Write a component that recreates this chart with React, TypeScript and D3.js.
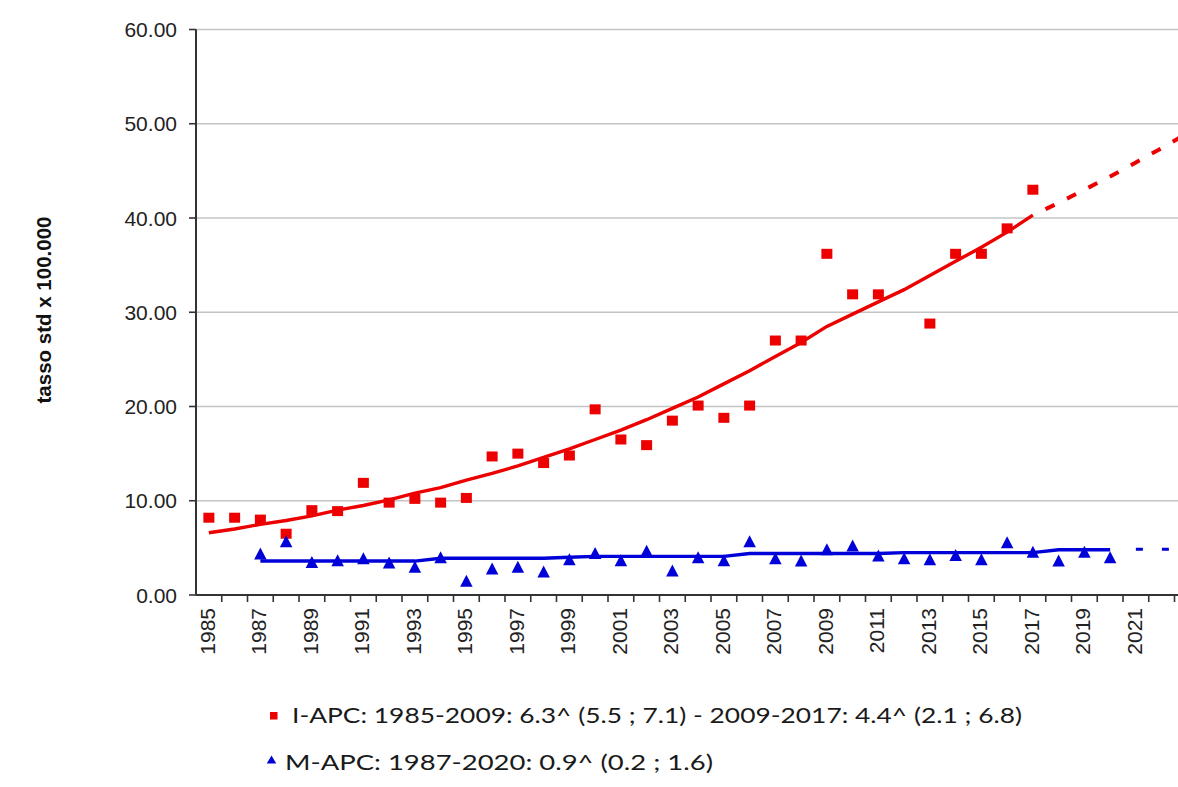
import * as d3 from 'd3';

// anni sull'asse x (l'asse prosegue oltre il bordo destro)
const years = d3.range(1985, 2025).map(String);
const yTicks = [0, 10, 20, 30, 40, 50, 60];

// incidenza osservata (quadrati rossi), 2012 assente
const incYears = [1985, 1986, 1987, 1988, 1989, 1990, 1991, 1992, 1993, 1994, 1995, 1996, 1997, 1998, 1999, 2000, 2001, 2002, 2003, 2004, 2005, 2006, 2007, 2008, 2009, 2010, 2011, 2013, 2014, 2015, 2016, 2017];
const incValues = [8.2, 8.2, 8.0, 6.5, 9.0, 8.9, 11.9, 9.8, 10.2, 9.8, 10.3, 14.7, 15.0, 14.0, 14.8, 19.7, 16.5, 15.9, 18.5, 20.1, 18.8, 20.1, 27.0, 27.0, 36.2, 31.9, 31.9, 28.8, 36.2, 36.2, 38.9, 43.0];

// modello joinpoint incidenza
const incFitYears = d3.range(1985, 2018);
const incFitValues = [6.6, 7.0, 7.5, 7.9, 8.4, 9.0, 9.5, 10.1, 10.8, 11.4, 12.2, 12.9, 13.7, 14.6, 15.5, 16.5, 17.5, 18.6, 19.8, 21.0, 22.4, 23.8, 25.3, 26.8, 28.5, 29.8, 31.1, 32.4, 33.9, 35.4, 36.9, 38.5, 40.3];
const incProjYears = [2017, 2018, 2019, 2020, 2021, 2022, 2023, 2024];
const incProjValues = [40.3, 41.6, 43.0, 44.4, 45.9, 47.4, 49.0, 50.6];

// mortalità osservata (triangoli blu)
const morYears = d3.range(1987, 2021);
const morValues = [4.4, 5.7, 3.5, 3.7, 3.9, 3.45, 3.0, 4.0, 1.5, 2.8, 3.0, 2.5, 3.8, 4.45, 3.7, 4.7, 2.6, 4.0, 3.7, 5.7, 3.9, 3.65, 4.85, 5.25, 4.2, 3.9, 3.8, 4.25, 3.8, 5.6, 4.6, 3.65, 4.6, 4.0];
const morFitValues = [3.6, 3.6, 3.6, 3.6, 3.6, 3.6, 3.6, 3.9, 3.9, 3.9, 3.9, 3.9, 4.0, 4.1, 4.1, 4.1, 4.1, 4.1, 4.1, 4.4, 4.4, 4.4, 4.4, 4.4, 4.4, 4.5, 4.5, 4.5, 4.5, 4.5, 4.5, 4.8, 4.8, 4.8];
const morProjYears = [2021, 2022, 2023, 2024];
const morProjValues = [4.85, 4.85, 4.85, 4.85];

const legendInc = 'I-APC: 1985-2009: 6.3^ (5.5 ; 7.1) - 2009-2017: 4.4^ (2.1 ; 6.8)';
const legendMor = 'M-APC: 1987-2020: 0.9^ (0.2 ; 1.6)';

const W = 1178;
const H = 787;
const left = 196;
const bottom = 595;
const top = 29.5;
const step = 25.75;

const RED = '#ec0000';
const BLUE = '#0000d8';
const AXIS_FONT = "'Liberation Sans', Arial, sans-serif";

export default function App() {
  const x = d3
    .scaleBand<string>()
    .domain(years)
    .range([left, left + step * years.length])
    .paddingInner(0)
    .paddingOuter(0);
  const cx = (yr: number) => (x(String(yr)) ?? 0) + x.bandwidth() / 2;
  const y = d3.scaleLinear().domain([0, 60]).range([bottom, top]);

  const line = d3
    .line<[number, number]>()
    .x((d) => cx(d[0]))
    .y((d) => y(d[1]));

  const incFit = line(incFitYears.map((yr, i) => [yr, incFitValues[i]]));
  const incProj = line(incProjYears.map((yr, i) => [yr, incProjValues[i]]));
  const morFit = line(morYears.map((yr, i) => [yr, morFitValues[i]]));
  const morProj = line(morProjYears.map((yr, i) => [yr, morProjValues[i]]));

  const tri = (px: number, py: number, w: number, h: number) =>
    `M${px},${py - h / 2}L${px + w / 2},${py + h / 2}L${px - w / 2},${py + h / 2}Z`;

  return (
    <svg
      width={W}
      height={H}
      style={{ position: 'absolute', left: 0, top: 0, background: '#fff' }}
    >
      {/* griglia */}
      {yTicks.slice(1).map((t) => (
        <line key={t} x1={left} x2={W} y1={y(t)} y2={y(t)} stroke="#c4c4c4" strokeWidth={1.6} />
      ))}

      {/* asse y */}
      <line x1={left} x2={left} y1={top} y2={bottom} stroke="#333" strokeWidth={2} />
      {yTicks.map((t) => (
        <g key={t}>
          <line x1={189} x2={left} y1={y(t)} y2={y(t)} stroke="#333" strokeWidth={1.6} />
          <text
            x={177}
            y={y(t)}
            dy="0.36em"
            textAnchor="end"
            fontFamily={AXIS_FONT}
            fontSize={21}
            fill="#222"
          >
            {t.toFixed(2)}
          </text>
        </g>
      ))}
      <text
        transform={`translate(51,310) rotate(-90)`}
        textAnchor="middle"
        fontFamily={AXIS_FONT}
        fontSize={20.5}
        fontWeight="bold"
        fill="#111"
      >
        tasso std x 100.000
      </text>

      {/* asse x */}
      <line x1={left} x2={W} y1={bottom} y2={bottom} stroke="#333" strokeWidth={2} />
      {years.map((yr) => (
        <line
          key={yr}
          x1={x(yr)! + step}
          x2={x(yr)! + step}
          y1={bottom}
          y2={bottom + 7}
          stroke="#333"
          strokeWidth={1.6}
        />
      ))}
      {years
        .filter((yr) => (+yr - 1985) % 2 === 0)
        .map((yr) => (
          <text
            key={yr}
            transform={`translate(${cx(+yr) - 1.5},608) rotate(-90)`}
            dy="0.36em"
            textAnchor="end"
            fontFamily={AXIS_FONT}
            fontSize={21}
            fill="#222"
          >
            {yr}
          </text>
        ))}

      {/* modelli */}
      <path d={incFit ?? ''} fill="none" stroke={RED} strokeWidth={3.4} />
      <path
        d={incProj ?? ''}
        fill="none"
        stroke={RED}
        strokeWidth={4}
        strokeDasharray="10 14"
        strokeDashoffset={-14}
      />
      <path d={morFit ?? ''} fill="none" stroke={BLUE} strokeWidth={3.4} />
      <path d={morProj ?? ''} fill="none" stroke={BLUE} strokeWidth={3} strokeDasharray="7 19" />

      {/* punti osservati */}
      {incYears.map((yr, i) => (
        <rect
          key={yr}
          x={cx(yr) - 5.5}
          y={y(incValues[i]) - 5}
          width={11}
          height={10}
          fill={RED}
        />
      ))}
      {morYears.map((yr, i) => (
        <path key={yr} d={tri(cx(yr), y(morValues[i]), 12.5, 12)} fill={BLUE} />
      ))}

      {/* legenda */}
      <rect x={270} y={712} width={7.5} height={7.5} fill={RED} />
      <text
        x={292}
        y={723}
        fontFamily="Lato, 'Open Sans', sans-serif"
        fontSize={22}
        fill="#1a1a1a"
        textLength={730}
        lengthAdjust="spacingAndGlyphs"
      >
        {legendInc}
      </text>
      <path d={tri(271.5, 759.5, 9.5, 8)} fill={BLUE} />
      <text
        x={285}
        y={770}
        fontFamily="Lato, 'Open Sans', sans-serif"
        fontSize={22}
        fill="#1a1a1a"
        textLength={428}
        lengthAdjust="spacingAndGlyphs"
      >
        {legendMor}
      </text>
    </svg>
  );
}
